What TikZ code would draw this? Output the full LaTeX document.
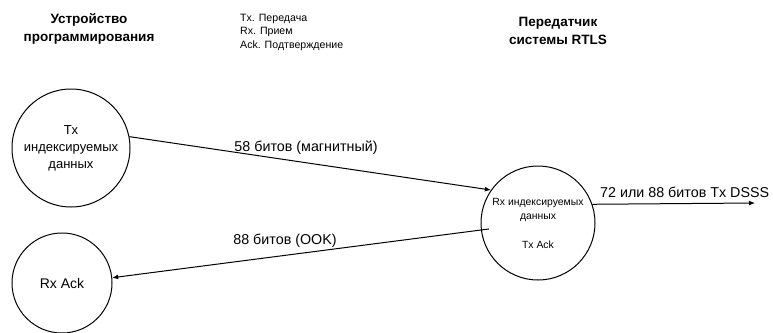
\documentclass[tikz,border=0pt]{standalone}
\usepackage{fontspec}
\setmainfont{Liberation Sans}
\usetikzlibrary{arrows.meta}
\begin{document}
\begin{tikzpicture}[x=1pt,y=-1pt,
  circ/.style={draw, circle, line width=1pt, inner sep=0pt, align=center},
  lbl/.style={inner sep=0pt, font=\fontsize{14.3}{16}\selectfont},
  ttl/.style={inner sep=0pt, align=center, font=\fontsize{13.5}{18}\selectfont\bfseries},
  conn/.style={line width=1pt, -{Latex[length=6pt,width=5pt]}}]
\useasboundingbox (0,0) rectangle (773,332);
% titles
\node[ttl] (t1) at (89,29) {Устройство\\программирования};
\node[ttl] (t2) at (558,31) {Передатчик\\системы RTLS};
\node[inner sep=0pt, align=left, anchor=north west, font=\fontsize{10.6}{13.5}\selectfont] (leg) at (240,14) {Tx. Передача\\Rx. Прием\\Ack. Подтверждение};
% circles
\node[circ, minimum size=118pt, font=\fontsize{13}{17}\selectfont] (c1) at (71,148) {Tx\\индексируемых\\данных};
\node[circ, minimum size=100pt, font=\fontsize{14}{16}\selectfont] (c2) at (62,283) {Rx Ack};
\node[circ, minimum size=114pt] (c3) at (538,223) {};
\node[inner sep=0pt, align=center, font=\fontsize{10.4}{14}\selectfont] (c3a) at (538,210) {Rx индексируемых\\данных};
\node[inner sep=0pt, font=\fontsize{10.4}{12}\selectfont] (c3b) at (538,245) {Tx Ack};
\coordinate (end3) at (755,203);
% connectors
\draw[conn] (c1.11) -- (c3.145);
\draw[conn, shorten <=-8pt] (c3.187) -- (c2.6);
\draw[conn] (c3.19) -- (end3);
% labels
\node[lbl] (l1) at (306,148) {58 битов (магнитный)};
\node[lbl] (l2) at (285,241) {88 битов (OOK)};
\node[lbl, anchor=west] (l3) at (600,192) {72 или 88 битов Tx DSSS};
\end{tikzpicture}
\end{document}
